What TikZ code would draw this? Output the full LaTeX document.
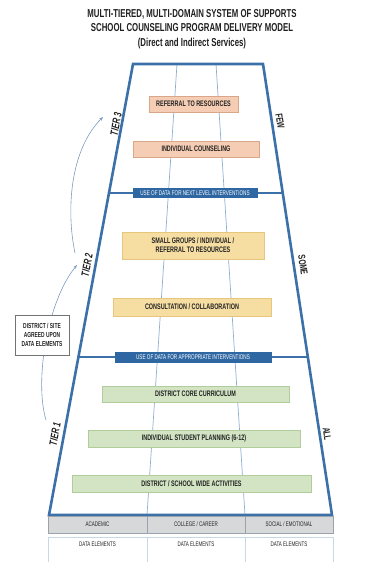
\documentclass[tikz,border=0pt]{standalone}
\usepackage{fontspec}
\setmainfont{Liberation Sans}
\newfontfamily\cond[FakeStretch=0.68]{Liberation Sans}
\usetikzlibrary{arrows.meta,calc}
\definecolor{tblue}{HTML}{3B70A8}
\definecolor{lblue}{HTML}{8FAFCF}
\definecolor{barblue}{HTML}{2F67A3}
\definecolor{salfill}{HTML}{F5CDB4}
\definecolor{saldraw}{HTML}{D9A68A}
\definecolor{yelfill}{HTML}{F6DEA2}
\definecolor{yeldraw}{HTML}{E6C67C}
\definecolor{grnfill}{HTML}{D2E4C3}
\definecolor{grndraw}{HTML}{B2CD9C}
\definecolor{txt}{HTML}{222222}
\definecolor{hdrfill}{HTML}{D6D8DA}
\definecolor{hdrdraw}{HTML}{9AA3AB}
\definecolor{celldraw}{HTML}{C8D8E6}
\definecolor{arr}{HTML}{7C9CBC}
\tikzset{
  boxbase/.style={minimum height=16pt, inner sep=0pt, line width=0.6pt, text=txt,
     font=\cond\bfseries\fontsize{8}{9}\selectfont, align=center},
  salbox/.style={boxbase, fill=salfill, draw=saldraw},
  yelbox/.style={boxbase, fill=yelfill, draw=yeldraw},
  grnbox/.style={boxbase, fill=grnfill, draw=grndraw},
  barlabel/.style={fill=barblue, draw=barblue, text=white, inner sep=0pt,
     font=\cond\fontsize{6.8}{7}\selectfont},
  edge/.style={draw=tblue, line width=2.6pt, line join=miter},
  inner/.style={draw=lblue, line width=0.7pt},
  hdr/.style={font=\cond\fontsize{6.6}{7}\selectfont, text=txt},
  tier/.style={font=\cond\bfseries\itshape\fontsize{11}{12}\selectfont, text=txt},
  side/.style={font=\cond\bfseries\fontsize{10}{11}\selectfont, text=txt},
  curvearrow/.style={draw=arr, line width=0.6pt, -{Stealth[length=4pt,width=3pt]}}
}
\begin{document}
\begin{tikzpicture}[x=1pt,y=-1pt]
\useasboundingbox (0,0) rectangle (384,562);
% title
\node[font=\cond\bfseries\fontsize{11.5}{14.5}\selectfont, text=black!88, align=center] (title) at (192,29)
  {MULTI-TIERED, MULTI-DOMAIN SYSTEM OF SUPPORTS\\SCHOOL COUNSELING PROGRAM DELIVERY MODEL\\(Direct and Indirect Services)};
% trapezoid coordinates
\coordinate (TL) at (133,64);
\coordinate (TR) at (263,64);
\coordinate (BL) at (49,515);
\coordinate (BR) at (332,515);
\coordinate (I1t) at (177,64);
\coordinate (I1b) at (147,515);
\coordinate (I2t) at (216,64);
\coordinate (I2b) at (245,515);
\coordinate (H1l) at ($(TL)!0.286!(BL)$);
\coordinate (H1r) at ($(TR)!0.286!(BR)$);
\coordinate (H2l) at ($(TL)!0.650!(BL)$);
\coordinate (H2r) at ($(TR)!0.650!(BR)$);
% inner lines
\draw[inner] (I1t) -- (I1b);
\draw[inner] (I2t) -- (I2b);
% divider lines
\draw[draw=tblue, line width=2pt] (H1l) -- (H1r);
\draw[draw=tblue, line width=2pt] (H2l) -- (H2r);
% trapezoid
\draw[edge] (TL) -- (TR) -- (BR) -- (BL) -- cycle;
% bar labels
\node[barlabel, minimum width=124pt, minimum height=9pt] (bar1) at (195,193) {USE OF DATA FOR NEXT LEVEL INTERVENTIONS};
\node[barlabel, minimum width=156pt, minimum height=10pt] (bar2) at (193,357) {USE OF DATA FOR APPROPRIATE INTERVENTIONS};
% tier 3
\node[salbox, minimum width=89pt] (ref) at (193.5,104) {REFERRAL TO RESOURCES};
\node[salbox, minimum width=126pt] (indc) at (196,149) {INDIVIDUAL COUNSELING};
% tier 2
\node[yelbox, minimum width=142pt, minimum height=27pt] (small) at (193,245.5) {SMALL GROUPS / INDIVIDUAL /\\REFERRAL TO RESOURCES};
\node[yelbox, minimum width=158pt, minimum height=18pt] (consult) at (192,307) {CONSULTATION / COLLABORATION};
% tier 1
\node[grnbox, minimum width=187pt] (core) at (195.5,394) {DISTRICT CORE CURRICULUM};
\node[grnbox, minimum width=212pt, minimum height=17pt] (isp) at (194,438.5) {INDIVIDUAL STUDENT PLANNING (6-12)};
\node[grnbox, minimum width=239pt, minimum height=17pt] (dswa) at (191.5,483.5) {DISTRICT / SCHOOL WIDE ACTIVITIES};
% side labels
\node[side, rotate=-81] (few) at (280,121) {FEW};
\node[side, rotate=-81] (some) at (303,265) {SOME};
\node[side, rotate=-81] (all) at (327,434) {ALL};
\node[tier, rotate=79.5] (t3) at (116,124) {TIER 3};
\node[tier, rotate=79.5] (t2) at (87,265) {TIER 2};
\node[tier, rotate=79.5] (t1) at (55,434) {TIER 1};
% arrows
\coordinate (a1s) at (46,420);
\coordinate (a1e) at (77,265);
\coordinate (a2s) at (75,253);
\coordinate (a2e) at (103,117);
\draw[curvearrow] (a1s) .. controls (34,380) and (48,300) .. (a1e);
\draw[curvearrow] (a2s) .. controls (66,210) and (70,150) .. (a2e);
% district box
\node[draw=black!55, fill=white, line width=0.6pt, minimum width=54pt, minimum height=40pt, inner sep=0pt,
  align=center, text=txt, font=\cond\bfseries\fontsize{7.2}{8.8}\selectfont] (dist) at (42,335)
  {DISTRICT / SITE\\AGREED UPON\\DATA ELEMENTS};
% bottom table
\node[hdr, draw=hdrdraw, fill=hdrfill, minimum width=99pt, minimum height=17pt, inner sep=0pt] (h1) at (97.5,524.5) {ACADEMIC};
\node[hdr, draw=hdrdraw, fill=hdrfill, minimum width=98pt, minimum height=17pt, inner sep=0pt] (h2) at (196,524.5) {COLLEGE / CAREER};
\node[hdr, draw=hdrdraw, fill=hdrfill, minimum width=88pt, minimum height=17pt, inner sep=0pt] (h3) at (289,524.5) {SOCIAL / EMOTIONAL};
\node[draw=celldraw, line width=0.6pt, minimum width=99pt, minimum height=26pt, inner sep=0pt] (c1) at (97.5,550) {};
\node[draw=celldraw, line width=0.6pt, minimum width=98pt, minimum height=26pt, inner sep=0pt] (c2) at (196,550) {};
\node[draw=celldraw, line width=0.6pt, minimum width=88pt, minimum height=26pt, inner sep=0pt] (c3) at (289,550) {};
\node[hdr] (d1) at (97.5,544) {DATA ELEMENTS};
\node[hdr] (d2) at (196,544) {DATA ELEMENTS};
\node[hdr] (d3) at (289,544) {DATA ELEMENTS};
\end{tikzpicture}
\end{document}
